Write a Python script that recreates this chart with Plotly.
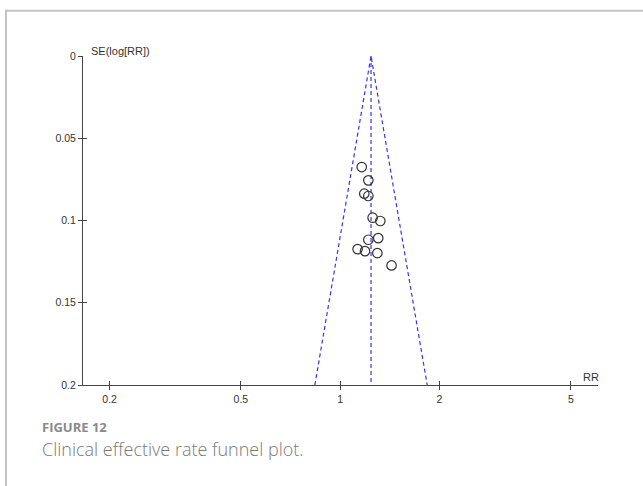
import math
import plotly.graph_objects as go

# ---- data ----
study_rr = [1.162, 1.217, 1.183, 1.217, 1.254, 1.323, 1.217, 1.304, 1.129, 1.189, 1.296, 1.431]
study_se = [0.0675, 0.0756, 0.0837, 0.0851, 0.0983, 0.1003, 0.1117, 0.1107, 0.1174, 0.1186, 0.1198, 0.1273]
pooled_rr = 1.24
se_max = 0.2
x_ticks = [0.2, 0.5, 1, 2, 5]
x_ticktext = ["0.2", "0.5", "1", "2", "5"]
y_ticks = [0, 0.05, 0.1, 0.15, 0.2]
y_ticktext = ["0", "0.05", "0.1", "0.15", "0.2"]

W, H = 643, 486
ML, MR, MT, MB = 83, 45, 56, 101
PW, PH = W - ML - MR, H - MT - MB


def px_x(p):
    return (p - ML) / PW


def px_y(p):
    return (MT + PH - p) / PH


funnel_color = "#3535ee"
axis_color = "#444444"
tick_font = dict(family="Liberation Sans, Arial, sans-serif", size=10.5, color="#333333")
label_font = dict(family="Liberation Sans, Arial, sans-serif", size=11, color="#333333")

fig = go.Figure()

# funnel (95% pseudo-confidence limits)
lo = pooled_rr * math.exp(-1.96 * se_max)
hi = pooled_rr * math.exp(1.96 * se_max)
fig.add_trace(go.Scatter(
    x=[lo, pooled_rr, hi], y=[se_max, 0, se_max], mode="lines",
    line=dict(color=funnel_color, width=1.2, dash="4px,3px"),
    hoverinfo="skip", showlegend=False))
fig.add_trace(go.Scatter(
    x=[pooled_rr, pooled_rr], y=[0, se_max], mode="lines",
    line=dict(color=funnel_color, width=1.2, dash="4px,3px"),
    hoverinfo="skip", showlegend=False))

# studies
fig.add_trace(go.Scatter(
    x=study_rr, y=study_se, mode="markers",
    marker=dict(symbol="circle-open", size=9.5, color="#333333", line=dict(width=1.2, color="#333333")),
    showlegend=False))

# invisible trace for overlay axes (inside tick marks)
fig.add_trace(go.Scatter(x=[1], y=[0.1], xaxis="x2", yaxis="y2", mode="markers",
                         marker=dict(opacity=0), hoverinfo="skip", showlegend=False))

xr = [-0.7796, 0.7814]
yr = [0.2, 0]

fig.update_layout(
    width=W, height=H,
    margin=dict(l=ML, r=MR, t=MT, b=MB),
    paper_bgcolor="white", plot_bgcolor="white",
    xaxis=dict(type="log", range=xr, tickvals=x_ticks, ticktext=x_ticktext,
               showgrid=False, zeroline=False, showline=True, linecolor=axis_color, linewidth=1,
               ticks="outside", ticklen=4, tickwidth=1, tickcolor=axis_color,
               tickfont=tick_font, fixedrange=True),
    yaxis=dict(range=yr, tickvals=y_ticks, ticktext=y_ticktext,
               showgrid=False, zeroline=False, showline=True, linecolor=axis_color, linewidth=1,
               ticks="outside", ticklen=4, tickwidth=1, tickcolor=axis_color,
               tickfont=tick_font, fixedrange=True),
    xaxis2=dict(type="log", range=xr, tickvals=x_ticks, overlaying="x", anchor="y", side="bottom",
                showticklabels=False, showgrid=False, zeroline=False, showline=False,
                ticks="inside", ticklen=4, tickwidth=1, tickcolor=axis_color, fixedrange=True),
    yaxis2=dict(range=yr, tickvals=y_ticks, overlaying="y", anchor="x", side="left",
                showticklabels=False, showgrid=False, zeroline=False, showline=False,
                ticks="inside", ticklen=4, tickwidth=1, tickcolor=axis_color, fixedrange=True),
    shapes=[
        dict(type="line", xref="paper", yref="paper", x0=px_x(5), x1=px_x(W + 2),
             y0=px_y(10.7), y1=px_y(10.7), line=dict(color="#c4c4c4", width=2)),
        dict(type="line", xref="paper", yref="paper", x0=px_x(6), x1=px_x(6),
             y0=px_y(9.7), y1=px_y(H + 2), line=dict(color="#c4c4c4", width=2)),
    ],
    annotations=[
        dict(text="SE(log[RR])", xref="paper", yref="paper", x=px_x(88.5), y=px_y(50.7),
             xanchor="left", yanchor="middle", showarrow=False, font=label_font),
        dict(text="RR", xref="paper", yref="paper", x=px_x(580.5), y=px_y(377),
             xanchor="left", yanchor="middle", showarrow=False, font=label_font),
        dict(text="FIGURE 12", xref="paper", yref="paper", x=px_x(39.5), y=px_y(427.3),
             xanchor="left", yanchor="middle", showarrow=False,
             font=dict(family="Open Sans, sans-serif", size=13, color="#8a8a8a", weight=700)),
        dict(text="Clinical effective rate funnel plot.", xref="paper", yref="paper",
             x=px_x(39.5), y=px_y(449.2), xanchor="left", yanchor="middle", showarrow=False,
             font=dict(family="Open Sans, sans-serif", size=18, color="#7a7a7a", weight=300)),
    ],
)

fig.write_html("out.html")
